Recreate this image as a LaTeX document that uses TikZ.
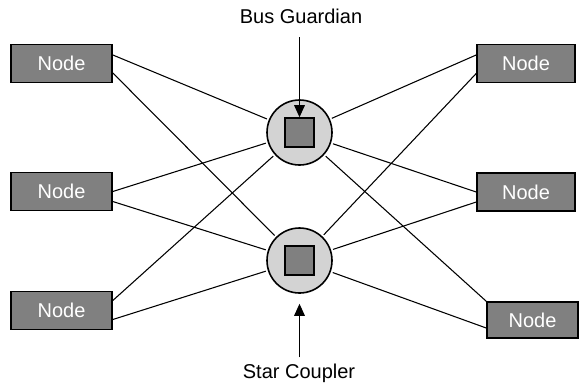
\documentclass[tikz,border=0pt]{standalone}
\usepackage{fontspec}
\setmainfont{Liberation Sans}
\usetikzlibrary{arrows.meta}
\definecolor{boxgray}{RGB}{128,128,128}
\definecolor{hubgray}{RGB}{211,211,211}

\begin{document}
\begin{tikzpicture}[x=0.75pt,y=-0.75pt,
  unit/.style={draw, line width=1.2pt, fill=boxgray, text=white,
    font=\fontsize{15}{18}\selectfont, minimum width=75.75pt,
    minimum height=28.5pt, inner sep=0pt},
  hub/.style={circle, draw, line width=1.2pt, fill=hubgray,
    minimum size=48.75pt, inner sep=0pt},
  core/.style={draw, line width=1.2pt, fill=boxgray, minimum size=21.75pt,
    inner sep=0pt},
  link/.style={line width=0.8pt, shorten >=1.5pt},
  pointer/.style={line width=0.8pt, -{Triangle[width=8pt,length=9pt]}},
  caption/.style={font=\fontsize{15}{18}\selectfont, inner sep=0pt}]
\useasboundingbox (0,0) rectangle (580,387);
% hubs
\node[hub] (bg) at (299.5,132.5) {};
\node[core] (bgcore) at (299.5,132.5) {};
\node[hub] (sc) at (299.5,260.5) {};
\node[core] (sccore) at (299.5,260.5) {};
% nodes
\node[unit] (L1) at (61.5,63.5) {Node};
\node[unit] (L2) at (61.5,191.5) {Node};
\node[unit] (L3) at (61.5,310.5) {Node};
\node[unit, minimum width=73.5pt] (R1) at (526,63.5) {Node};
\node[unit, minimum width=73.5pt] (R2) at (526,192) {Node};
\node[unit, minimum width=68.25pt, minimum height=27pt] (R3) at (532.5,320) {Node};
% links
\draw[link] ([yshift=6.4pt]L1.east) -- (bg);
\draw[link] ([yshift=-7.1pt]L1.east) -- (sc);
\draw[link] (L2.east) -- (bg);
\draw[link] ([yshift=-7.5pt]L2.east) -- (sc);
\draw[link] ([yshift=7.5pt]L3.east) -- (bg);
\draw[link] ([yshift=-6.75pt]L3.east) -- (sc);
\draw[link] ([yshift=6.4pt]R1.west) -- (bg);
\draw[link] ([yshift=-7.5pt]R1.west) -- (sc);
\draw[link] (R2.west) -- (bg);
\draw[link] ([yshift=-7.5pt]R2.west) -- (sc);
\draw[link] (R3.north west) -- (bg);
\draw[link] ([yshift=-6pt]R3.west) -- (sc);
% labels
\node[caption, anchor=base] (guardlbl) at (301,23) {Bus Guardian};
\node[caption, anchor=base] (couplerlbl) at (299,378) {Star Coupler};
\draw[pointer, shorten <=10.5pt] (guardlbl.south -| bg) -- (bgcore.north);
\draw[pointer, shorten <=4.5pt, shorten >=7.5pt] (couplerlbl.north -| sc) -- (sc.south);
\end{tikzpicture}
\end{document}
